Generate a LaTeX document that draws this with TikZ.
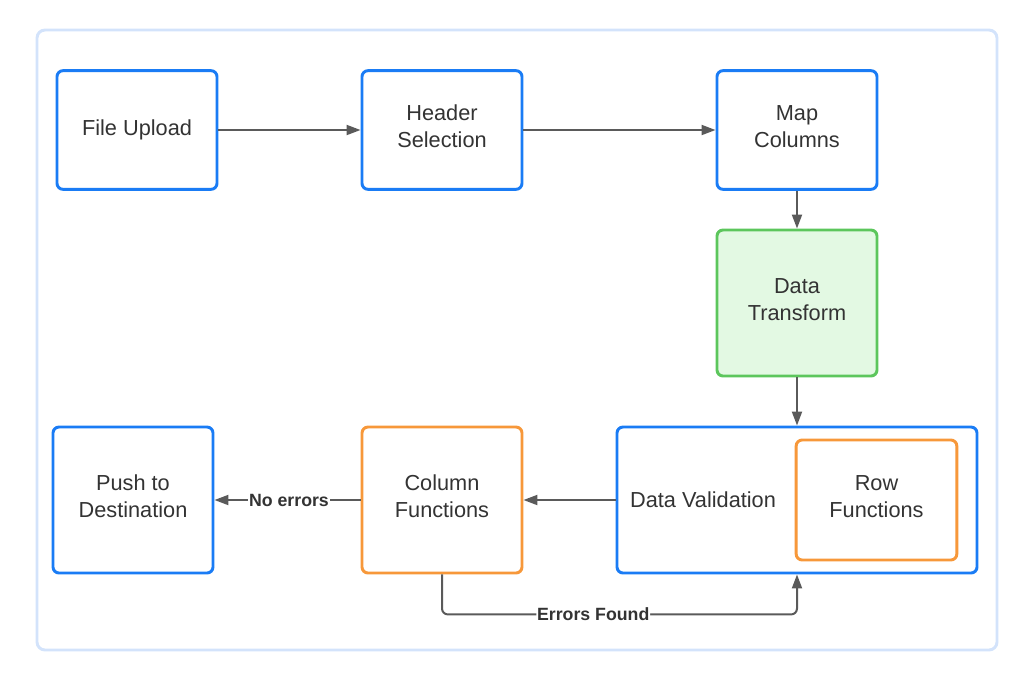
\documentclass[tikz,border=0pt]{standalone}
\usepackage{fontspec}
\setmainfont{Liberation Sans}
\usetikzlibrary{arrows.meta}
\definecolor{bluestroke}{HTML}{1A7CF5}
\definecolor{outerblue}{HTML}{D3E3FB}
\definecolor{greenstroke}{HTML}{5CC65C}
\definecolor{greenfill}{HTML}{E3F9E3}
\definecolor{orangestroke}{HTML}{F7983A}
\definecolor{arrowgray}{HTML}{5A5A5A}
\definecolor{textgray}{HTML}{333333}
\newcommand{\twolines}[2]{\raisebox{0.8pt}[\height][\depth]{\begin{tabular}{@{}c@{}}#1\\#2\end{tabular}}}
\tikzset{
  box/.style={draw=bluestroke, line width=2.2pt, rounded corners=4.5pt, fill=white,
    minimum width=120pt, minimum height=89pt, align=center, text=textgray,
    font=\fontsize{16.3pt}{20pt}\selectfont, inner sep=0pt},
  tallbox/.style={box, minimum height=109.5pt},
  greenbox/.style={tallbox, draw=greenstroke, fill=greenfill},
  orangebox/.style={tallbox, draw=orangestroke},
  conn/.style={draw=arrowgray, line width=1.5pt, -{Triangle[length=10.5pt,width=7.5pt]}},
  lbl/.style={fill=white, text=textgray, font=\fontsize{13.3pt}{16pt}\selectfont\bfseries, inner sep=0.5pt}
}
\begin{document}
\begin{tikzpicture}[x=0.75pt, y=-0.75pt]
\useasboundingbox (0,0) rectangle (1033,676);
\draw[outerblue, line width=2.2pt, rounded corners=6pt] (37,30) rectangle (997,650);
\node[box] (upload) at (137,130) {File Upload};
\node[box] (header) at (442,130) {\twolines{Header}{Selection}};
\node[box] (map) at (797,130) {\twolines{Map}{Columns}};
\node[greenbox] (transform) at (797,303) {\twolines{Data}{Transform}};
\node[tallbox, minimum width=270pt] (val) at (797,500) {};
\node[text=textgray, font=\fontsize{16.3pt}{20pt}\selectfont, inner sep=0pt] (valtxt) at (703,500) {Data Validation};
\node[orangebox, minimum width=120.5pt, minimum height=90pt] (row) at (876.5,500) {\twolines{Row}{Functions}};
\node[orangebox] (col) at (442,500) {\twolines{Column}{Functions}};
\node[tallbox] (push) at (133,500) {\twolines{Push to}{Destination}};
\draw[conn] (upload) -- (header);
\draw[conn] (header) -- (map);
\draw[conn] (map) -- (transform);
\draw[conn] (transform) -- (val);
\draw[conn] (val.west) -- (col.east);
\draw[conn] (col.west) -- node[lbl, pos=0.49] {No errors} (push.east);
\draw[conn, rounded corners=4.5pt] (col.south) -- ++(0,40) -| node[lbl, pos=0.213] {Errors Found} (val.south);
\end{tikzpicture}
\end{document}
